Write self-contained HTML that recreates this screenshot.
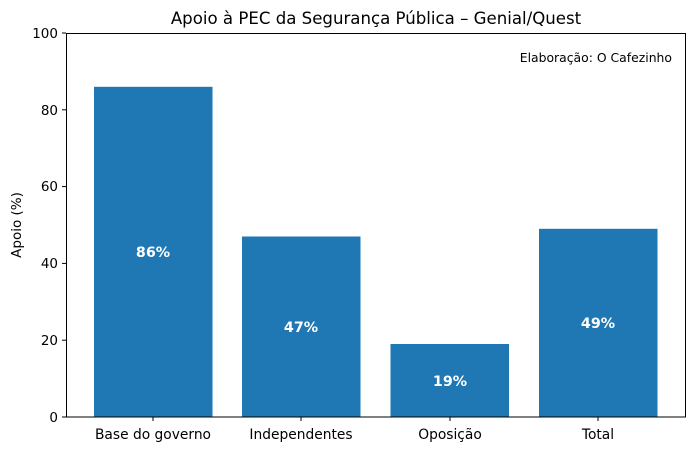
<!DOCTYPE html>
<html><head><meta charset="utf-8"><style>body{margin:0;background:#fff}svg{display:block}text{font-family:"DejaVu Sans","Liberation Sans",sans-serif}</style></head><body>
<svg width="695" height="451" viewBox="0 0 695 451" xmlns="http://www.w3.org/2000/svg">
<rect width="695" height="451" fill="#fff"/>
<text x="376" y="24" font-size="16.6" text-anchor="middle" fill="#000">Apoio à PEC da Segurança Pública – Genial/Quest</text>
<g fill="#1f77b4">
<rect x="94" y="86.8" width="118.5" height="330.2"/>
<rect x="242" y="236.5" width="118.5" height="180.5"/>
<rect x="390.5" y="344" width="118.5" height="73"/>
<rect x="539" y="228.8" width="118.5" height="188.2"/>
</g>
<g fill="#fff" font-size="14.3" font-weight="bold" text-anchor="middle">
<text x="153" y="257">86%</text>
<text x="301" y="332">47%</text>
<text x="450" y="386">19%</text>
<text x="598" y="328">49%</text>
</g>
<rect x="66.5" y="33.5" width="619" height="383.5" fill="none" stroke="#000" stroke-width="1"/>
<g stroke="#000" stroke-width="1">
<line x1="62" y1="417" x2="66" y2="417"/>
<line x1="62" y1="340.2" x2="66" y2="340.2"/>
<line x1="62" y1="263.4" x2="66" y2="263.4"/>
<line x1="62" y1="186.6" x2="66" y2="186.6"/>
<line x1="62" y1="109.8" x2="66" y2="109.8"/>
<line x1="62" y1="33" x2="66" y2="33"/>
<line x1="153" y1="417" x2="153" y2="421"/>
<line x1="301" y1="417" x2="301" y2="421"/>
<line x1="450" y1="417" x2="450" y2="421"/>
<line x1="598" y1="417" x2="598" y2="421"/>
</g>
<g font-size="13.5" fill="#000" text-anchor="end">
<text x="58" y="422">0</text>
<text x="58" y="345">20</text>
<text x="58" y="268">40</text>
<text x="58" y="191">60</text>
<text x="58" y="115">80</text>
<text x="58" y="38">100</text>
</g>
<g font-size="13.8" fill="#000" text-anchor="middle">
<text x="153" y="439">Base do governo</text>
<text x="301" y="439">Independentes</text>
<text x="450" y="439">Oposição</text>
<text x="598" y="439">Total</text>
</g>
<text transform="translate(21,225) rotate(-90)" font-size="13.5" text-anchor="middle">Apoio (%)</text>
<text x="672" y="62" font-size="12.4" text-anchor="end">Elaboração: O Cafezinho</text>
</svg>
</body></html>
